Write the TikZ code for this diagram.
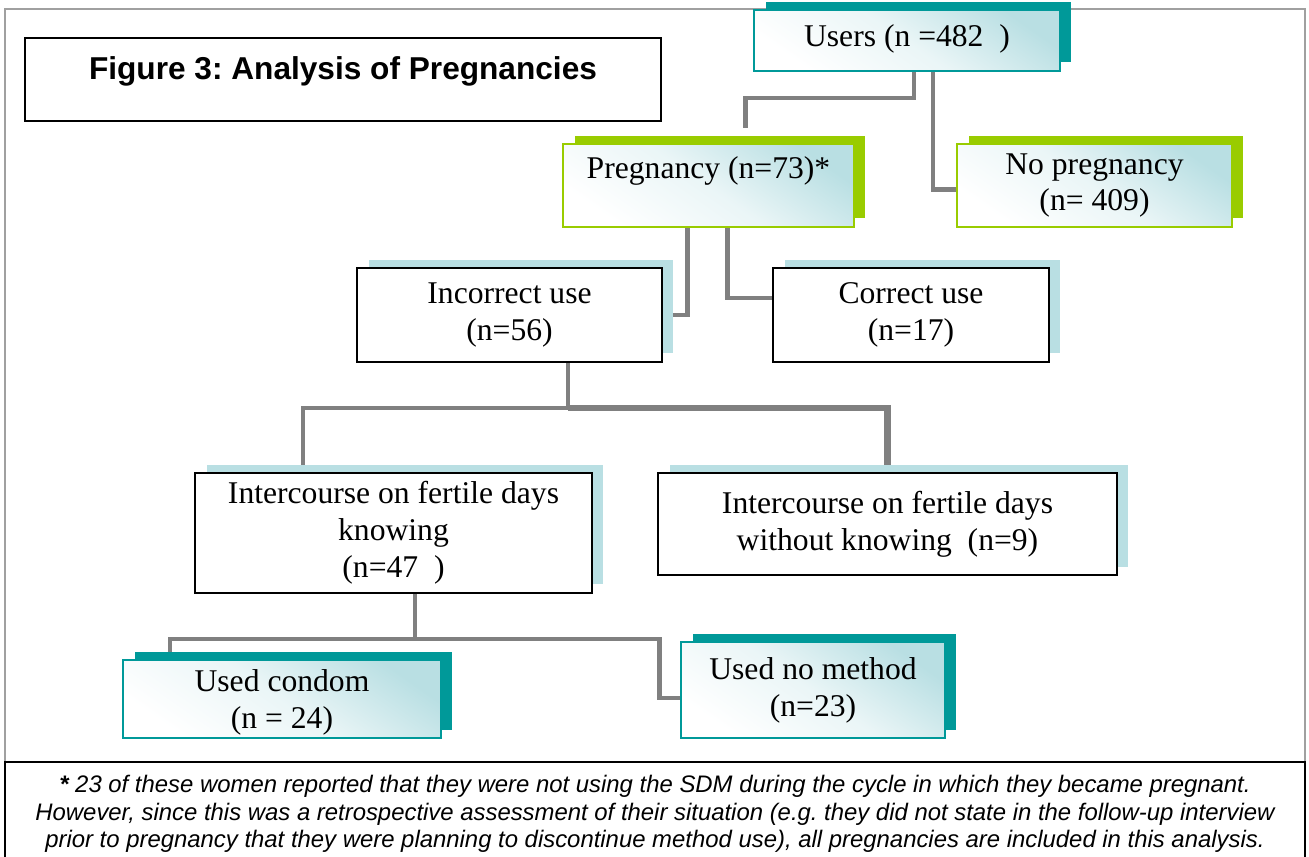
\documentclass[tikz,border=0pt]{standalone}
\usepackage{fontspec}
\setmainfont{Liberation Serif}
\newfontfamily\arialfont{Liberation Sans}
\usetikzlibrary{positioning, calc, shadows, backgrounds}
\definecolor{tealc}{HTML}{009999}
\definecolor{limec}{HTML}{99CC00}
\definecolor{paleblue}{HTML}{B9DFE3}
\definecolor{linkgray}{HTML}{808080}
\definecolor{framegray}{HTML}{A0A0A0}
\frenchspacing
\newcommand{\lowline}[1]{\raisebox{-6pt}[0pt][0pt]{#1}}
\tikzset{
	box/.style={rectangle, line width=1.1pt, align=center, inner sep=2pt, font=\fontsize{18}{21}\selectfont},
	plainbox/.style={box, draw=black, fill=white, general shadow={fill=paleblue, draw=none, shadow xshift=0.23cm, shadow yshift=0.17cm}},
	shadebox/.style={box, draw=#1, top color=paleblue, bottom color=white, middle color=paleblue!30!white, shading angle=-35, general shadow={fill=#1, draw=none, shadow xshift=0.23cm, shadow yshift=0.17cm}},
	titlebox/.style={rectangle, draw=black, line width=1.1pt, align=center, font=\arialfont\bfseries\fontsize{18}{19}\selectfont},
	notebox/.style={rectangle, draw=black, line width=1.4pt, align=center, font=\arialfont\itshape\fontsize{13.6}{15.6}\selectfont},
	link/.style={draw=linkgray, line width=2.8pt},
	thicklink/.style={draw=linkgray, line width=3.6pt}
}
\begin{document}
\begin{tikzpicture}[x=0.02cm, y=-0.02cm]
        \useasboundingbox (0,0) rectangle (1309,856);
        \node[titlebox, minimum width=12.72cm, minimum height=1.66cm] (title) at (343, 79.5) {Figure 3: Analysis of Pregnancies\\[-6pt]\mbox{}};
        \node[shadebox=tealc, minimum width=6.12cm, minimum height=1.22cm] (users) at (907, 40.5) {Users (n =482\ \ )\\[-15pt]\mbox{}};
        \node[shadebox=limec, minimum width=5.82cm, minimum height=1.66cm] (preg) at (708.5, 185.5) {Pregnancy (n=73)*\\\mbox{}};
        \node[shadebox=limec, minimum width=5.5cm, minimum height=1.66cm] (nopreg) at (1094.5, 185.5) {No pregnancy\\(n= 409)};
        \node[plainbox, minimum width=6.1cm, minimum height=1.88cm] (incorrect) at (509.5, 315) {Incorrect use\\(n=56)};
        \node[plainbox, minimum width=5.52cm, minimum height=1.88cm] (correct) at (911, 315) {Correct use\\(n=17)};
        \node[plainbox, minimum width=7.94cm, minimum height=2.4cm] (knowing) at (393.5, 533) {Intercourse on fertile days\\knowing\\(n=47\ \ )};
        \node[plainbox, minimum width=9.18cm, minimum height=2.04cm] (without) at (887.5, 524) {Intercourse on fertile days\\without knowing\ \ (n=9)};
        \node[shadebox=tealc, minimum width=6.36cm, minimum height=1.56cm] (condom) at (282, 699) {\lowline{Used condom}\\\lowline{(n = 24)}};
        \node[shadebox=tealc, minimum width=5.28cm, minimum height=1.92cm] (nomethod) at (813, 690) {Used no method\\(n=23)};
        \node[notebox, minimum width=26cm, minimum height=2.08cm] (note) at (655, 814) {\textbf{*} 23 of these women reported that they were not using the SDM during the cycle in which they became pregnant.\\However, since this was a retrospective assessment of their situation (e.g. they did not state in the follow-up interview\\prior to pregnancy that they were planning to discontinue method use), all pregnancies are included in this analysis.};

        \begin{pgfonlayer}{background}
            \draw[framegray, line width=1.4pt] (5, 9) rectangle (1305, 762);
            \draw[link] ($(users.south)+(7,0)$) -- ++(0,26) -| ($(preg.north)+(37,-15)$);
            \draw[link] ($(users.south)+(26,0)$) |- ($(nopreg.west)+(0,4)$);
            \draw[link] ($(preg.south)+(-21,0)$) |- (incorrect.east);
            \draw[link] ($(preg.south)+(19,0)$) |- ($(correct.west)+(0,-17)$);
            \draw[link] ($(incorrect.south)+(58.5,0)$) -- ++(0,45) coordinate (fork1);
            \draw[link] (fork1) -| ($(knowing.north)+(-90.5,0)$);
            \draw[thicklink] (fork1) -| (without.north);
            \draw[link] ($(knowing.south)+(21.5,0)$) -- ++(0,45) coordinate (fork2);
            \draw[link] (fork2) -| ($(condom.north)+(-112,0)$);
            \draw[link] (fork2) -| ($(nomethod.west)+(-21,8)$) -- ($(nomethod.west)+(0,8)$);
        \end{pgfonlayer}
    \end{tikzpicture}
\end{document}
